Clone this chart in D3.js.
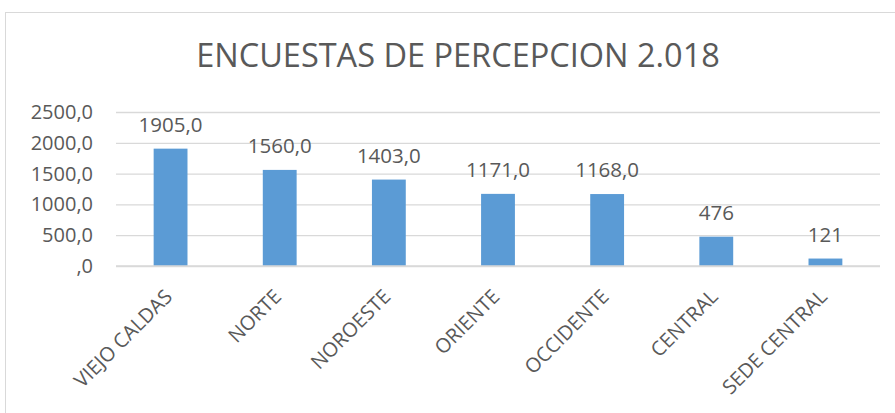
<!DOCTYPE html>
<html>
<head>
<meta charset="utf-8">
<script src="https://cdn.jsdelivr.net/npm/d3@7"></script>
<style>
  body { margin: 0; background: #fff; }
  text { font-family: "Open Sans", sans-serif; fill: #595959; }
</style>
</head>
<body>
<svg id="chart" width="895" height="413"></svg>
<script>
// data
const categories = ["VIEJO CALDAS", "NORTE", "NOROESTE", "ORIENTE", "OCCIDENTE", "CENTRAL", "SEDE CENTRAL"];
const values = [1905, 1560, 1403, 1171, 1168, 476, 121];
const valueLabels = ["1905,0", "1560,0", "1403,0", "1171,0", "1168,0", "476", "121"];
const yTicks = [0, 500, 1000, 1500, 2000, 2500];
const yTickLabels = [",0", "500,0", "1000,0", "1500,0", "2000,0", "2500,0"];

const svg = d3.select('#chart');

// chart frame
svg.append('rect')
  .attr('x', 5.5)
  .attr('y', 12.5)
  .attr('width', 940)
  .attr('height', 440)
  .attr('fill', 'none')
  .attr('stroke', '#d9d9d9');

// title
svg.append('text')
  .attr('x', 458)
  .attr('y', 67)
  .attr('text-anchor', 'middle')
  .style('font-size', '32.5px')
  .text('ENCUESTAS DE PERCEPCION 2.018');

// scales
const xScale = d3.scaleBand()
  .domain(categories)
  .range([116, 880])
  .padding(0);

const yScale = d3.scaleLinear()
  .domain([0, 2500])
  .range([266, 112]);

const barWidth = xScale.bandwidth() * 0.31;

// gridlines via axis
const grid = svg.append('g')
  .attr('transform', 'translate(116,0)')
  .call(d3.axisLeft(yScale)
    .tickValues(yTicks)
    .tickSize(-764)
    .tickFormat((d, i) => yTickLabels[i]));

grid.select('.domain').remove();
grid.selectAll('line')
  .attr('stroke', '#d9d9d9')
  .attr('stroke-width', 1.3);
grid.selectAll('text')
  .attr('x', -23)
  .attr('fill', '#595959')
  .style('font-size', '20px')
  .style('font-family', '"Open Sans", sans-serif');

// bars
const barGroups = svg.selectAll('.bar')
  .data(categories)
  .enter()
  .append('g');

barGroups.append('rect')
  .attr('x', (c) => xScale(c) + xScale.bandwidth() / 2 - barWidth / 2)
  .attr('y', (c, i) => yScale(values[i]))
  .attr('width', barWidth)
  .attr('height', (c, i) => yScale(0) - yScale(values[i]))
  .attr('fill', '#5b9bd5');

// value labels
barGroups.append('text')
  .attr('x', (c) => xScale(c) + xScale.bandwidth() / 2)
  .attr('y', (c, i) => yScale(values[i]) - 17)
  .attr('text-anchor', 'middle')
  .style('font-size', '20.5px')
  .text((c, i) => valueLabels[i]);

// category labels
const xAxis = svg.append('g')
  .attr('transform', 'translate(0,266)')
  .call(d3.axisBottom(xScale).tickSize(0).tickPadding(0));

xAxis.select('.domain').remove();
xAxis.selectAll('text')
  .attr('fill', '#595959')
  .attr('text-anchor', 'end')
  .attr('dy', '0.35em')
  .attr('y', 0)
  .attr('transform', 'translate(-2,27) rotate(-45)')
  .style('font-size', '20px')
  .style('font-family', '"Open Sans", sans-serif');

// baseline
svg.append('line')
  .attr('x1', 116)
  .attr('x2', 880)
  .attr('y1', yScale(0))
  .attr('y2', yScale(0))
  .attr('stroke', '#d9d9d9')
  .attr('stroke-width', 1.5);
</script>
</body>
</html>
